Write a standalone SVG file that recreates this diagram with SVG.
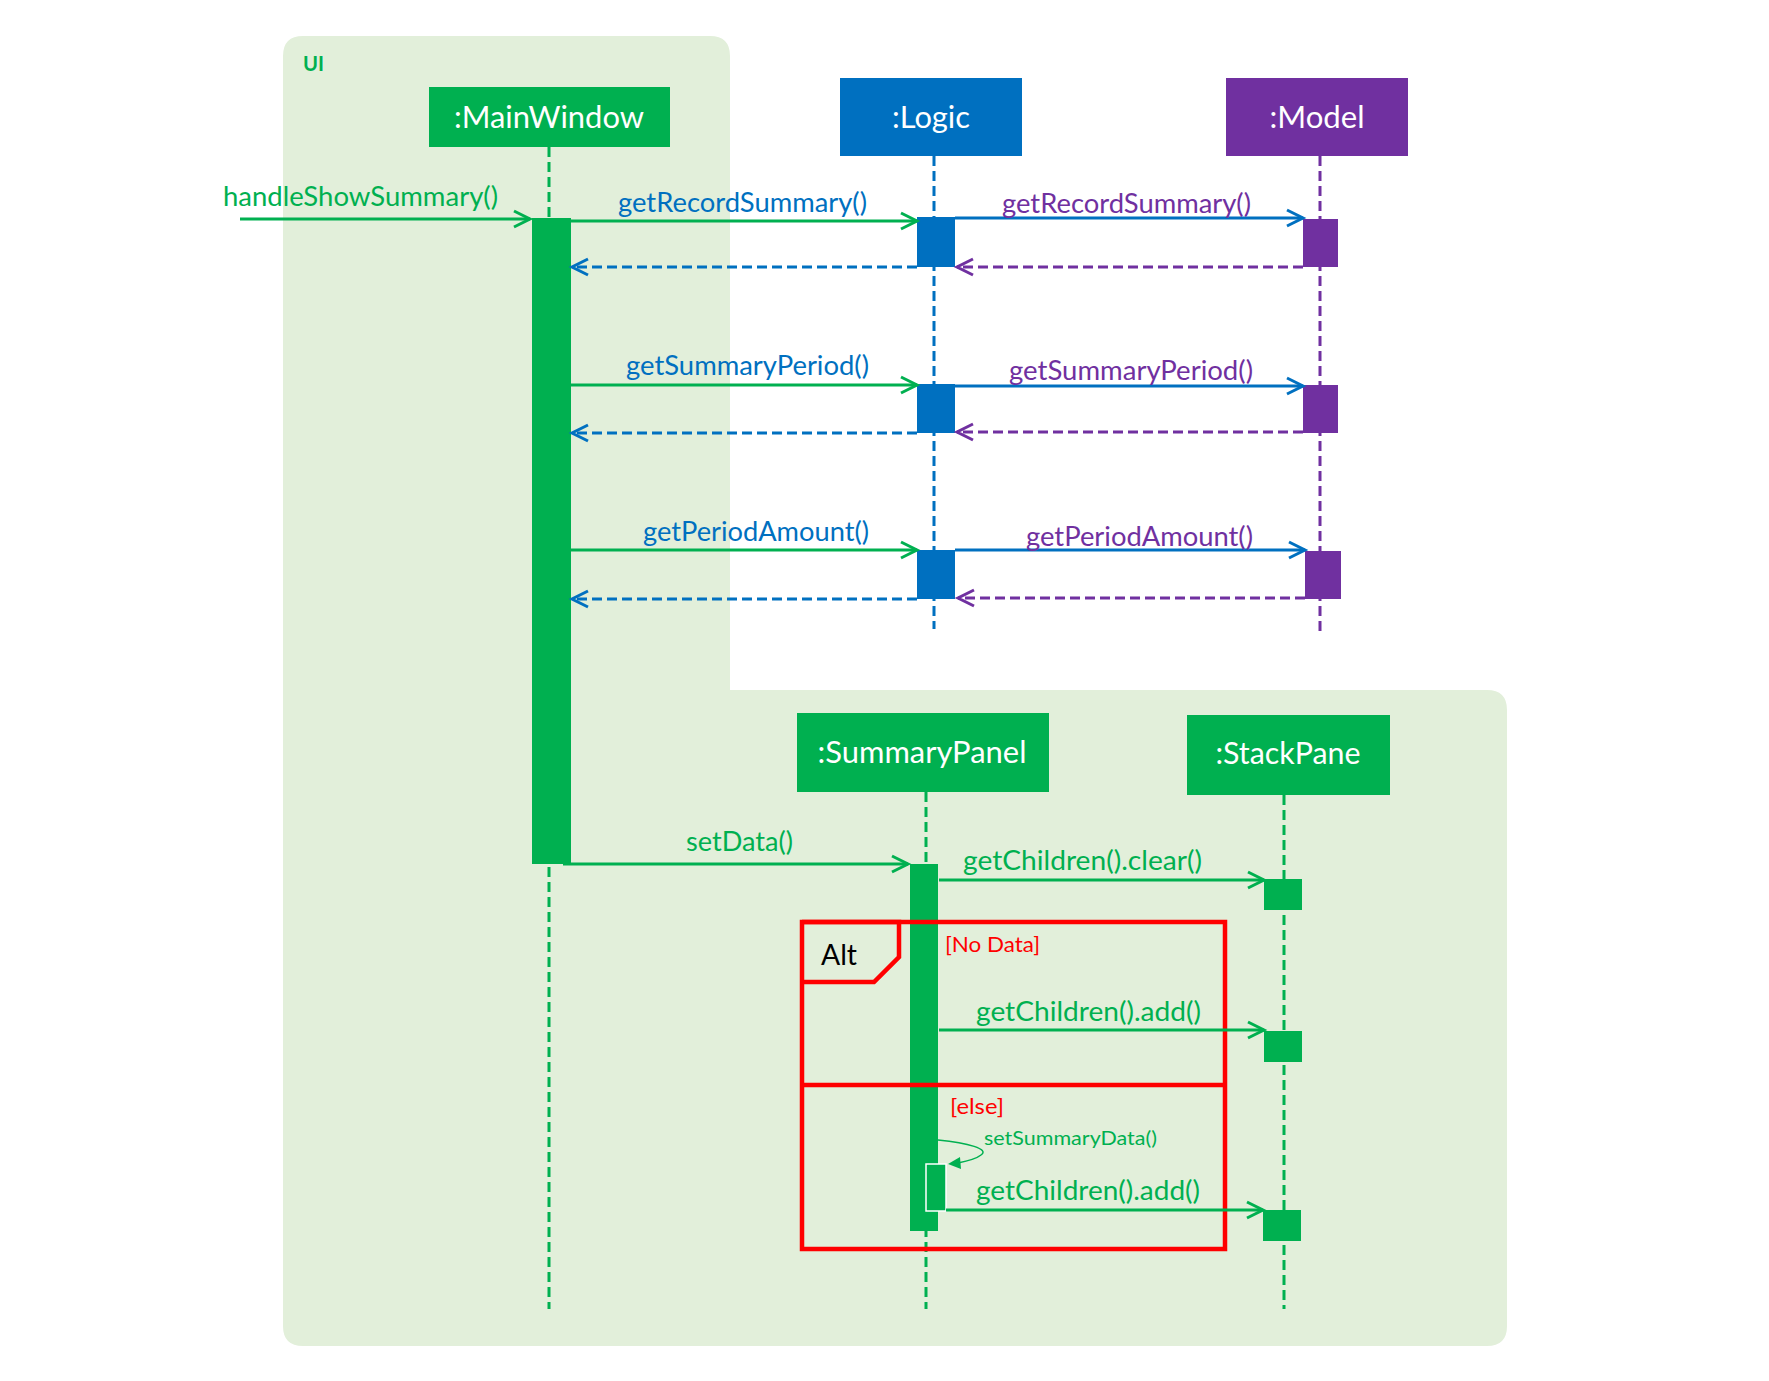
<svg xmlns="http://www.w3.org/2000/svg" width="1769" height="1381" viewBox="0 0 1769 1381">
<style>
text{font-family:Lato,"Liberation Sans",sans-serif}
.msg{font-size:26px}
.title{font-size:30px;fill:#fff;text-anchor:middle}
.g{fill:#00B050}.b{fill:#0070C0}.p{fill:#7030A0}.r{fill:#FF0000}
.ll{stroke-width:3;stroke-dasharray:10 5;fill:none}
.sg{stroke:#00B050}.sb{stroke:#0070C0}.sp{stroke:#7030A0}
.arr{stroke-width:3;fill:none}
.ret{stroke-width:3;fill:none;stroke-dasharray:10 5}
.frame{stroke:#FF0000;stroke-width:4.5;fill:none}
</style>
<defs>
<marker id="ag" markerUnits="userSpaceOnUse" markerWidth="20" markerHeight="20" refX="16" refY="8" orient="auto" overflow="visible"><path d="M0,0 L16,8 L0,16" fill="none" stroke="#00B050" stroke-width="3"/></marker>
<marker id="ab" markerUnits="userSpaceOnUse" markerWidth="20" markerHeight="20" refX="16" refY="8" orient="auto" overflow="visible"><path d="M0,0 L16,8 L0,16" fill="none" stroke="#0070C0" stroke-width="3"/></marker>
<marker id="ap" markerUnits="userSpaceOnUse" markerWidth="20" markerHeight="20" refX="16" refY="8" orient="auto" overflow="visible"><path d="M0,0 L16,8 L0,16" fill="none" stroke="#7030A0" stroke-width="3"/></marker>
</defs>
<rect width="1769" height="1381" fill="#fff"/>
<g id="ui-package">
<path d="M303,36 H710 Q730,36 730,56 V690 H1487 Q1507,690 1507,710 V1326 Q1507,1346 1487,1346 H303 Q283,1346 283,1326 V56 Q283,36 303,36 Z" fill="#E2EFDA"/>
<text x="303" y="71" font-size="20" font-weight="bold" class="g" textLength="21" lengthAdjust="spacingAndGlyphs">UI</text>
</g>
<g id="mainwindow">
<line x1="549" y1="147" x2="549" y2="1309" class="ll sg"/>
<rect x="429" y="87" width="241" height="60" fill="#00B050"/>
<text x="549" y="128" class="title" textLength="190" lengthAdjust="spacingAndGlyphs">:MainWindow</text>
<rect x="532" y="218" width="39" height="646" fill="#00B050"/>
</g>
<g id="logic">
<line x1="934" y1="156" x2="934" y2="629" class="ll sb"/>
<rect x="840" y="78" width="182" height="78" fill="#0070C0"/>
<text x="931" y="128" class="title" textLength="78" lengthAdjust="spacingAndGlyphs">:Logic</text>
<rect x="917" y="217" width="38" height="50" fill="#0070C0"/>
<rect x="917" y="384" width="38" height="49" fill="#0070C0"/>
<rect x="917" y="550" width="38" height="49" fill="#0070C0"/>
</g>
<g id="model">
<line x1="1320" y1="156" x2="1320" y2="632" class="ll sp"/>
<rect x="1226" y="78" width="182" height="78" fill="#7030A0"/>
<text x="1317" y="128" class="title" textLength="95" lengthAdjust="spacingAndGlyphs">:Model</text>
<rect x="1303" y="219" width="35" height="48" fill="#7030A0"/>
<rect x="1303" y="385" width="35" height="48" fill="#7030A0"/>
<rect x="1305" y="551" width="36" height="48" fill="#7030A0"/>
</g>
<g id="summarypanel">
<line x1="926" y1="792" x2="926" y2="1309" class="ll sg"/>
<rect x="797" y="713" width="252" height="79" fill="#00B050"/>
<text x="922" y="763" class="title" textLength="209" lengthAdjust="spacingAndGlyphs">:SummaryPanel</text>
<rect x="910" y="864" width="28" height="367" fill="#00B050"/>
</g>
<g id="stackpane">
<line x1="1284" y1="795" x2="1284" y2="1309" class="ll sg"/>
<rect x="1187" y="715" width="203" height="80" fill="#00B050"/>
<text x="1288" y="764" class="title" textLength="145" lengthAdjust="spacingAndGlyphs">:StackPane</text>
<rect x="1264" y="879" width="38" height="31" fill="#00B050"/>
<rect x="1264" y="1031" width="38" height="31" fill="#00B050"/>
<rect x="1263" y="1210" width="38" height="31" fill="#00B050"/>
</g>
<g id="alt-frame">
<rect x="802" y="922" width="423" height="327" class="frame"/>
<line x1="802" y1="1085" x2="1225" y2="1085" class="frame"/>
<path d="M802,922 H899 V957 L874,982 H802" class="frame"/>
<text x="821" y="965" font-size="28" fill="#000" textLength="36" lengthAdjust="spacingAndGlyphs">Alt</text>
<text x="945" y="952" font-size="21" class="r" textLength="95" lengthAdjust="spacingAndGlyphs">[No Data]</text>
<text x="950" y="1114" font-size="21" class="r" textLength="54" lengthAdjust="spacingAndGlyphs">[else]</text>
</g>
<g id="connectors">
<line x1="240" y1="219" x2="530" y2="219" class="arr sg" marker-end="url(#ag)"/>
<text x="223" y="206" class="msg g" textLength="275" lengthAdjust="spacingAndGlyphs">handleShowSummary()</text>

<line x1="571" y1="221" x2="917" y2="221" class="arr sg" marker-end="url(#ag)"/>
<text x="618" y="212" class="msg b" textLength="249" lengthAdjust="spacingAndGlyphs">getRecordSummary()</text>
<line x1="955" y1="218" x2="1303" y2="218" class="arr sb" marker-end="url(#ab)"/>
<text x="1002" y="213" class="msg p" textLength="249" lengthAdjust="spacingAndGlyphs">getRecordSummary()</text>
<line x1="1303" y1="267" x2="957" y2="267" class="ret sp" marker-end="url(#ap)"/>
<line x1="917" y1="267" x2="572" y2="267" class="ret sb" marker-end="url(#ab)"/>

<line x1="571" y1="385" x2="917" y2="385" class="arr sg" marker-end="url(#ag)"/>
<text x="626" y="375" class="msg b" textLength="243" lengthAdjust="spacingAndGlyphs">getSummaryPeriod()</text>
<line x1="955" y1="386" x2="1303" y2="386" class="arr sb" marker-end="url(#ab)"/>
<text x="1009" y="380" class="msg p" textLength="244" lengthAdjust="spacingAndGlyphs">getSummaryPeriod()</text>
<line x1="1303" y1="432" x2="957" y2="432" class="ret sp" marker-end="url(#ap)"/>
<line x1="917" y1="433" x2="572" y2="433" class="ret sb" marker-end="url(#ab)"/>

<line x1="571" y1="550" x2="917" y2="550" class="arr sg" marker-end="url(#ag)"/>
<text x="643" y="541" class="msg b" textLength="226" lengthAdjust="spacingAndGlyphs">getPeriodAmount()</text>
<line x1="955" y1="550" x2="1305" y2="550" class="arr sb" marker-end="url(#ab)"/>
<text x="1026" y="546" class="msg p" textLength="227" lengthAdjust="spacingAndGlyphs">getPeriodAmount()</text>
<line x1="1305" y1="598" x2="958" y2="598" class="ret sp" marker-end="url(#ap)"/>
<line x1="917" y1="599" x2="572" y2="599" class="ret sb" marker-end="url(#ab)"/>

<line x1="563" y1="864" x2="908" y2="864" class="arr sg" marker-end="url(#ag)"/>
<text x="686" y="851" class="msg g" textLength="107" lengthAdjust="spacingAndGlyphs">setData()</text>

<line x1="939" y1="880" x2="1264" y2="880" class="arr sg" marker-end="url(#ag)"/>
<text x="963" y="870" class="msg g" textLength="239" lengthAdjust="spacingAndGlyphs">getChildren().clear()</text>

<line x1="939" y1="1030" x2="1264" y2="1030" class="arr sg" marker-end="url(#ag)"/>
<text x="976" y="1021" class="msg g" textLength="225" lengthAdjust="spacingAndGlyphs">getChildren().add()</text>

<path d="M938,1140 C968,1143 990,1149 981,1155 C976,1159 968,1161 958,1163" fill="none" stroke="#00B050" stroke-width="1.5"/>
<path d="M948,1164 L960,1157 L961,1169 Z" fill="#00B050"/>
<text x="984" y="1145" font-size="20" class="g" textLength="173" lengthAdjust="spacingAndGlyphs">setSummaryData()</text>

<rect x="926" y="1164" width="20" height="47" fill="#00B050" stroke="#fff" stroke-width="1.5"/>
<line x1="946" y1="1210" x2="1263" y2="1210" class="arr sg" marker-end="url(#ag)"/>
<text x="976" y="1200" class="msg g" textLength="224" lengthAdjust="spacingAndGlyphs">getChildren().add()</text>
</g>
</svg>
